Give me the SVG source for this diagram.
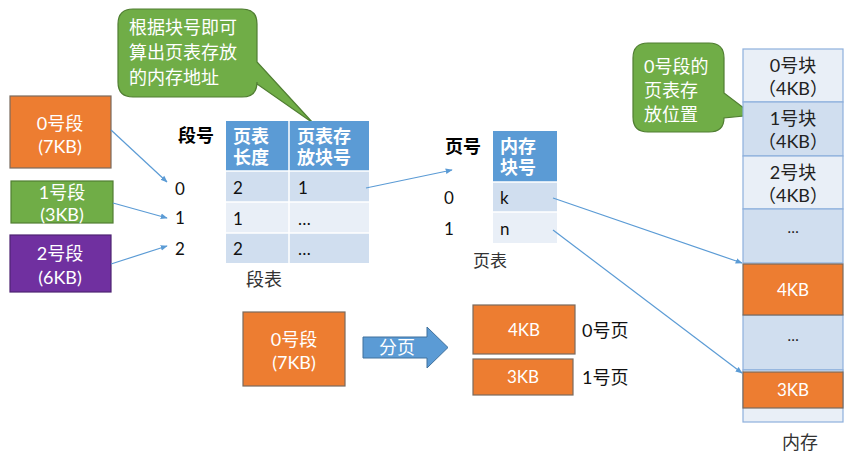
<svg xmlns="http://www.w3.org/2000/svg" width="849" height="455" viewBox="0 0 849 455">
<style>
text{font-family:Lato,"Noto Sans CJK SC",sans-serif;}
.w{fill:#fff;font-size:18px;text-anchor:middle;}
.w2{fill:#fff;font-size:17px;text-anchor:middle;}
.d{fill:#111;font-size:17px;}
.dp{fill:#111;font-size:18px;}
.dc{fill:#222;font-size:18px;text-anchor:middle;}
.hb{fill:#fff;font-size:18px;font-weight:bold;}
.b{fill:#000;font-size:18px;font-weight:bold;}
.lbl{fill:#333;font-size:18px;text-anchor:middle;}
.or{fill:#ED7D31;stroke:#7a6a5e;stroke-width:1.2;}
.hd{fill:#5B9BD5;}
.dk{fill:#D0DEEF;}
.lt{fill:#E9EFF7;}
.mc{stroke:#8EB0DC;stroke-width:1.2;}
.conn{stroke:#5B9BD5;stroke-width:1.2;fill:none;marker-end:url(#ah);}
.call{fill:#70AD47;stroke:#507E32;stroke-width:1.2;}
.ct{fill:#fff;font-size:18px;}
</style>
<defs>
<marker id="ah" viewBox="0 0 10 10" refX="9" refY="5" markerWidth="7" markerHeight="7" orient="auto" markerUnits="userSpaceOnUse">
<path d="M0,1 L10,5 L0,9 Z" fill="#5B9BD5"/>
</marker>
</defs>
<rect width="849" height="455" fill="#fff"/>

<g id="callout1">
<path class="call" d="M133,9 H242 Q257,9 257,24 V62 L313,123 L257,84 V82 Q257,97 242,97 H133 Q118,97 118,82 V24 Q118,9 133,9 Z"/>
<text class="ct" x="129" y="34">根据块号即可</text>
<text class="ct" x="129" y="59">算出页表存放</text>
<text class="ct" x="129" y="84">的内存地址</text>
</g>

<g id="seg0">
<rect class="or" x="10" y="96" width="101" height="72"/>
<text class="w" x="60" y="130">0号段</text>
<text class="w" x="60" y="153">(7KB)</text>
</g>
<g id="seg1">
<rect x="11" y="181" width="102" height="42" fill="#70AD47" stroke="#507E32" stroke-width="1.2"/>
<text class="w" x="62" y="199">1号段</text>
<text class="w" x="62" y="221">(3KB)</text>
</g>
<g id="seg2">
<rect x="10" y="235" width="101" height="57" fill="#7030A0" stroke="#4E2372" stroke-width="1.2"/>
<text class="w" x="60" y="260">2号段</text>
<text class="w" x="60" y="284">(6KB)</text>
</g>

<g id="segno">
<text class="b" x="178" y="142">段号</text>
<text class="d" x="175" y="195">0</text>
<text class="d" x="175" y="224">1</text>
<text class="d" x="175" y="255">2</text>
</g>

<g id="segtable">
<rect class="hd" x="226" y="121" width="143" height="50"/>
<rect class="dk" x="226" y="171" width="143" height="31"/>
<rect class="lt" x="226" y="202" width="143" height="31"/>
<rect class="dk" x="226" y="233" width="143" height="30"/>
<g stroke="#fff" stroke-width="1.5">
<line x1="226" y1="171" x2="369" y2="171"/>
<line x1="226" y1="202" x2="369" y2="202"/>
<line x1="226" y1="233" x2="369" y2="233"/>
<line x1="289" y1="121" x2="289" y2="263"/>
</g>
<text class="hb" x="233" y="143">页表</text>
<text class="hb" x="233" y="164">长度</text>
<text class="hb" x="297" y="143">页表存</text>
<text class="hb" x="297" y="164">放块号</text>
<text class="d" x="233" y="194">2</text>
<text class="d" x="298" y="194">1</text>
<text class="d" x="233" y="225">1</text>
<text class="d" x="298" y="225">…</text>
<text class="d" x="233" y="255">2</text>
<text class="d" x="298" y="255">…</text>
<text class="lbl" x="264" y="286">段表</text>
</g>

<g id="pageno">
<text class="b" x="445" y="153">页号</text>
<text class="d" x="444" y="204">0</text>
<text class="d" x="444" y="235">1</text>
</g>

<g id="pagetable">
<rect class="hd" x="493" y="131" width="64" height="51"/>
<rect class="dk" x="493" y="182" width="64" height="30"/>
<rect class="lt" x="493" y="212" width="64" height="31"/>
<g stroke="#fff" stroke-width="1.5">
<line x1="493" y1="182" x2="557" y2="182"/>
<line x1="493" y1="212" x2="557" y2="212"/>
</g>
<text class="hb" x="500" y="153">内存</text>
<text class="hb" x="500" y="174">块号</text>
<text class="d" x="500" y="204">k</text>
<text class="d" x="500" y="235">n</text>
<text class="lbl" x="490" y="267" style="font-size:17px">页表</text>
</g>

<g id="callout2">
<path class="call" d="M648,43 H709 Q724,43 724,58 V93 L753,115 L724,118 Q724,132 709,132 H648 Q633,132 633,117 V58 Q633,43 648,43 Z"/>
<text class="ct" x="644" y="73">0号段的</text>
<text class="ct" x="644" y="97">页表存</text>
<text class="ct" x="644" y="121">放位置</text>
</g>

<g id="memory">
<rect class="lt mc" x="743" y="49" width="100" height="53"/>
<rect class="dk mc" x="743" y="102" width="100" height="54"/>
<rect class="lt mc" x="743" y="156" width="100" height="53"/>
<rect class="dk mc" x="743" y="209" width="100" height="54"/>
<rect class="dk mc" x="743" y="315" width="100" height="55"/>
<rect class="lt mc" x="743" y="370" width="100" height="52"/>
<rect class="or" x="743" y="264" width="100" height="51"/>
<rect class="or" x="743" y="372" width="100" height="36"/>
<text class="dc" x="793" y="72">0号块</text>
<text class="dc" x="793" y="95">（4KB）</text>
<text class="dc" x="793" y="125">1号块</text>
<text class="dc" x="793" y="148">（4KB）</text>
<text class="dc" x="793" y="179">2号块</text>
<text class="dc" x="793" y="202">（4KB）</text>
<text class="dc" x="793" y="233" style="font-size:15px">…</text>
<text class="w2" x="793" y="296">4KB</text>
<text class="dc" x="793" y="341" style="font-size:15px">…</text>
<text class="w2" x="793" y="396">3KB</text>
<text class="lbl" x="800" y="449">内存</text>
</g>

<g id="bigseg0">
<rect class="or" x="243" y="312" width="102" height="74"/>
<text class="w" x="294" y="346">0号段</text>
<text class="w" x="294" y="369">(7KB)</text>
</g>

<g id="paging-arrow">
<path d="M363,337 H427 V327 L448,347.5 L427,368 V358 H363 Z" fill="#5B9BD5" stroke="#41719C" stroke-width="1"/>
<text class="w" x="397" y="354">分页</text>
</g>

<g id="page0">
<rect class="or" x="473" y="305" width="102" height="49"/>
<text class="w2" x="524" y="336">4KB</text>
<text class="dp" x="582" y="337">0号页</text>
</g>
<g id="page1">
<rect class="or" x="473" y="359" width="100" height="36"/>
<text class="w2" x="523" y="383">3KB</text>
<text class="dp" x="582" y="384">1号页</text>
</g>

<g id="connectors">
<line class="conn" x1="111" y1="130" x2="167" y2="182"/>
<line class="conn" x1="113" y1="203" x2="167" y2="218"/>
<line class="conn" x1="111" y1="264" x2="167" y2="246"/>
<line class="conn" x1="366" y1="188" x2="452" y2="170"/>
<line class="conn" x1="553" y1="198" x2="742" y2="263"/>
<line class="conn" x1="553" y1="230" x2="742" y2="373"/>
</g>
</svg>
